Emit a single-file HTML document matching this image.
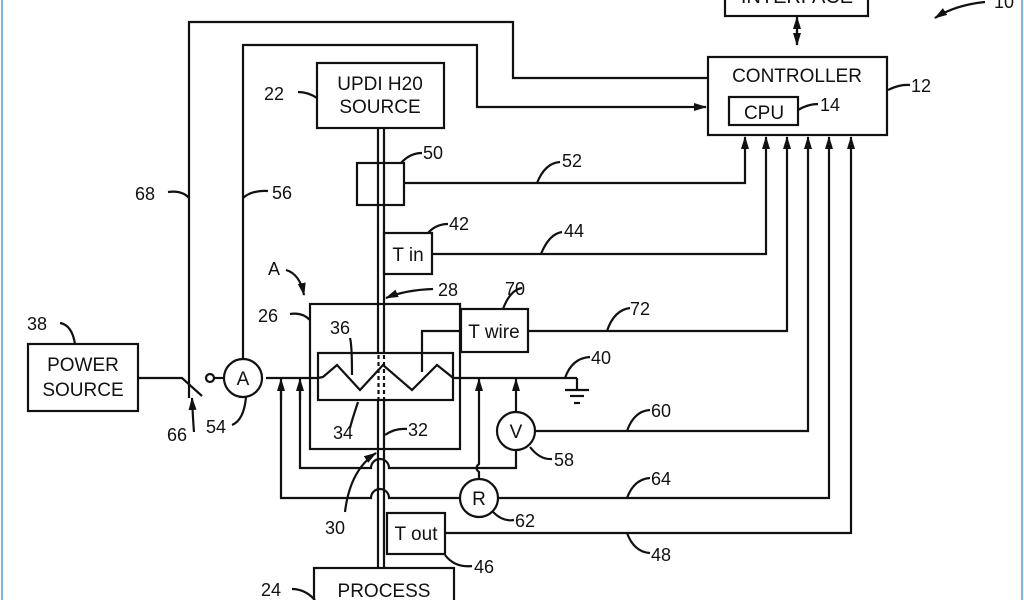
<!DOCTYPE html>
<html><head><meta charset="utf-8"><style>
html,body{margin:0;padding:0;background:#fff;}
svg{display:block;}
text{font-family:"Liberation Sans",Arial,sans-serif;fill:#111;}
</style></head><body>
<svg width="1024" height="600" viewBox="0 0 1024 600" xmlns="http://www.w3.org/2000/svg">
<defs>
<marker id="ah" markerWidth="13" markerHeight="10" refX="12" refY="5" orient="auto" markerUnits="userSpaceOnUse">
<path d="M0,1 L13,5 L0,9 Z" fill="#111"/></marker>
</defs>
<rect x="0" y="0" width="1024" height="600" fill="#fff"/>
<line x1="2" y1="0" x2="2" y2="600" stroke="#7fb6e0" stroke-width="2"/>
<line x1="1022" y1="0" x2="1022" y2="600" stroke="#7fb6e0" stroke-width="2"/>
<g fill="none" stroke="#111" stroke-width="2.2">
<rect x="725" y="-10" width="143" height="26"/>
<line x1="797" y1="30" x2="797" y2="45" marker-end="url(#ah)"/>
<line x1="797" y1="44" x2="797" y2="17" marker-end="url(#ah)"/>
<rect x="708" y="57" width="179" height="78"/>
<rect x="729" y="97" width="69" height="28"/>
<polyline points="189,398 189,22 513,22 513,78 708,78"/>
<polyline points="243,359 243,45 477,45 477,107 706,107" marker-end="url(#ah)"/>
<rect x="317" y="63" width="127" height="65"/>
<line x1="378" y1="128" x2="378" y2="372"/><line x1="384" y1="128" x2="384" y2="372"/>
<line x1="378" y1="400" x2="378" y2="568"/><line x1="384" y1="400" x2="384" y2="568"/>
<rect x="357" y="163" width="47" height="42"/>
<rect x="384" y="233" width="48" height="41"/>
<rect x="461" y="309" width="67" height="43"/>
<rect x="387" y="513" width="58" height="41"/>
<rect x="314" y="568" width="140" height="40"/>
<polyline points="404,183 745,183 745,137" marker-end="url(#ah)"/>
<polyline points="432,254 766,254 766,137" marker-end="url(#ah)"/>
<polyline points="528,331 787,331 787,137" marker-end="url(#ah)"/>
<polyline points="535,431 808,431 808,137" marker-end="url(#ah)"/>
<polyline points="498,498 829,498 829,137" marker-end="url(#ah)"/>
<polyline points="445,533 851,533 851,137" marker-end="url(#ah)"/>
<rect x="310" y="304" width="150" height="145"/>
<rect x="318" y="353" width="135" height="47" fill="#fff"/>
<polyline points="318,378 323,377 337,365 360,390 383,365 412,390 437,365 452,377 453,378"/>
<polyline points="422,372 422,331 461,331"/>
<line x1="266" y1="378" x2="318" y2="378"/>
<line x1="453" y1="378" x2="577" y2="378"/>
<line x1="577" y1="378" x2="577" y2="389"/>
<line x1="565" y1="390" x2="589" y2="390"/><line x1="570" y1="396" x2="584" y2="396"/><line x1="574" y1="403" x2="580" y2="403"/>
<line x1="378.5" y1="355" x2="378.5" y2="400" stroke-dasharray="4,3"/>
<line x1="384" y1="355" x2="384" y2="400" stroke-dasharray="4,3"/>
<rect x="28" y="344" width="110" height="67"/>
<polyline points="138,378 182,378 202,396"/>
<circle cx="210" cy="378" r="4"/>
<line x1="214" y1="378" x2="224" y2="378"/>
<circle cx="243" cy="378" r="19"/>
<path d="M300,382 L300,468 L371,468 A9,9 0 0 1 389,468 L516,468 L516,450"/>
<line x1="300" y1="400" x2="300" y2="379" marker-end="url(#ah)"/>
<path d="M281,382 L281,498 L371,498 A9,9 0 0 1 389,498 L460,498"/>
<line x1="281" y1="400" x2="281" y2="379" marker-end="url(#ah)"/>
<circle cx="516" cy="431" r="19"/>
<line x1="516" y1="412" x2="516" y2="379" marker-end="url(#ah)"/>
<circle cx="479" cy="498" r="19"/>
<path d="M479,479 L479,472 Q474,468 479,464 L479,379" marker-end="url(#ah)"/>
<path d="M888,90 Q900,84 910,85"/>
<path d="M798,110 Q808,104 818,104"/>
<path d="M317,98 Q308,92 298,92"/>
<path d="M401,163 Q410,153 422,153"/>
<path d="M537,183 Q545,163 560,162"/>
<path d="M428,233 Q436,224 448,224"/>
<path d="M541,254 Q549,234 562,232"/>
<path d="M189,198 Q182,190 168,192"/>
<path d="M243,198 Q252,190 268,191"/>
<path d="M310,320 Q302,312 290,314"/>
<path d="M503,309 Q510,290 522,288" />
<path d="M607,331 Q614,310 630,308"/>
<path d="M565,378 Q572,358 590,357"/>
<path d="M627,431 Q634,411 650,410"/>
<path d="M530,447 Q540,460 552,459"/>
<path d="M627,498 Q634,479 650,478"/>
<path d="M493,512 Q503,522 514,520"/>
<path d="M627,533 Q634,552 650,553"/>
<path d="M445,555 Q455,568 472,566"/>
<path d="M315,600 Q305,589 292,589"/>
<path d="M246,397 Q244,420 232,425"/>
<path d="M75,344 Q72,325 60,323"/>
<path d="M352,375 Q352,345 350,338"/>
<path d="M358,402 Q352,420 350,428"/>
<path d="M385,435 Q395,428 407,429"/>
<path d="M194,432 Q193,420 192,398" marker-end="url(#ah)"/>
<path d="M286,270 Q300,274 304,295" marker-end="url(#ah)"/>
<path d="M433,289 Q405,290 386,298" marker-end="url(#ah)"/>
<path d="M345,512 Q350,470 376,453" marker-end="url(#ah)"/>
<path d="M985,2 Q955,5 935,18" marker-end="url(#ah)"/>
</g>
<g font-size="19" text-anchor="middle">
<text x="797" y="3" font-size="20">INTERFACE</text>
<text x="797" y="82">CONTROLLER</text>
<text x="764" y="119">CPU</text>
<text x="380" y="90">UPDI H20</text>
<text x="380" y="113">SOURCE</text>
<text x="408" y="261">T in</text>
<text x="494" y="338">T wire</text>
<text x="416" y="540">T out</text>
<text x="384" y="597">PROCESS</text>
<text x="83" y="371">POWER</text>
<text x="83" y="396">SOURCE</text>
<text x="243" y="385">A</text>
<text x="516" y="438">V</text>
<text x="479" y="505">R</text>
</g>
<g font-size="18">
<text x="994" y="8">10</text>
<text x="911" y="92">12</text>
<text x="820" y="111">14</text>
<text x="264" y="100">22</text>
<text x="423" y="159">50</text>
<text x="562" y="167">52</text>
<text x="449" y="230">42</text>
<text x="564" y="237">44</text>
<text x="135" y="200">68</text>
<text x="272" y="199">56</text>
<text x="268" y="275">A</text>
<text x="438" y="296">28</text>
<text x="258" y="322">26</text>
<text x="505" y="295">70</text>
<text x="630" y="315">72</text>
<text x="330" y="334">36</text>
<text x="591" y="364">40</text>
<text x="27" y="330">38</text>
<text x="333" y="439">34</text>
<text x="408" y="436">32</text>
<text x="651" y="417">60</text>
<text x="554" y="466">58</text>
<text x="651" y="485">64</text>
<text x="515" y="527">62</text>
<text x="325" y="534">30</text>
<text x="651" y="561">48</text>
<text x="474" y="573">46</text>
<text x="261" y="596">24</text>
<text x="206" y="433">54</text>
<text x="167" y="441">66</text>
</g>
</svg>
</body></html>
